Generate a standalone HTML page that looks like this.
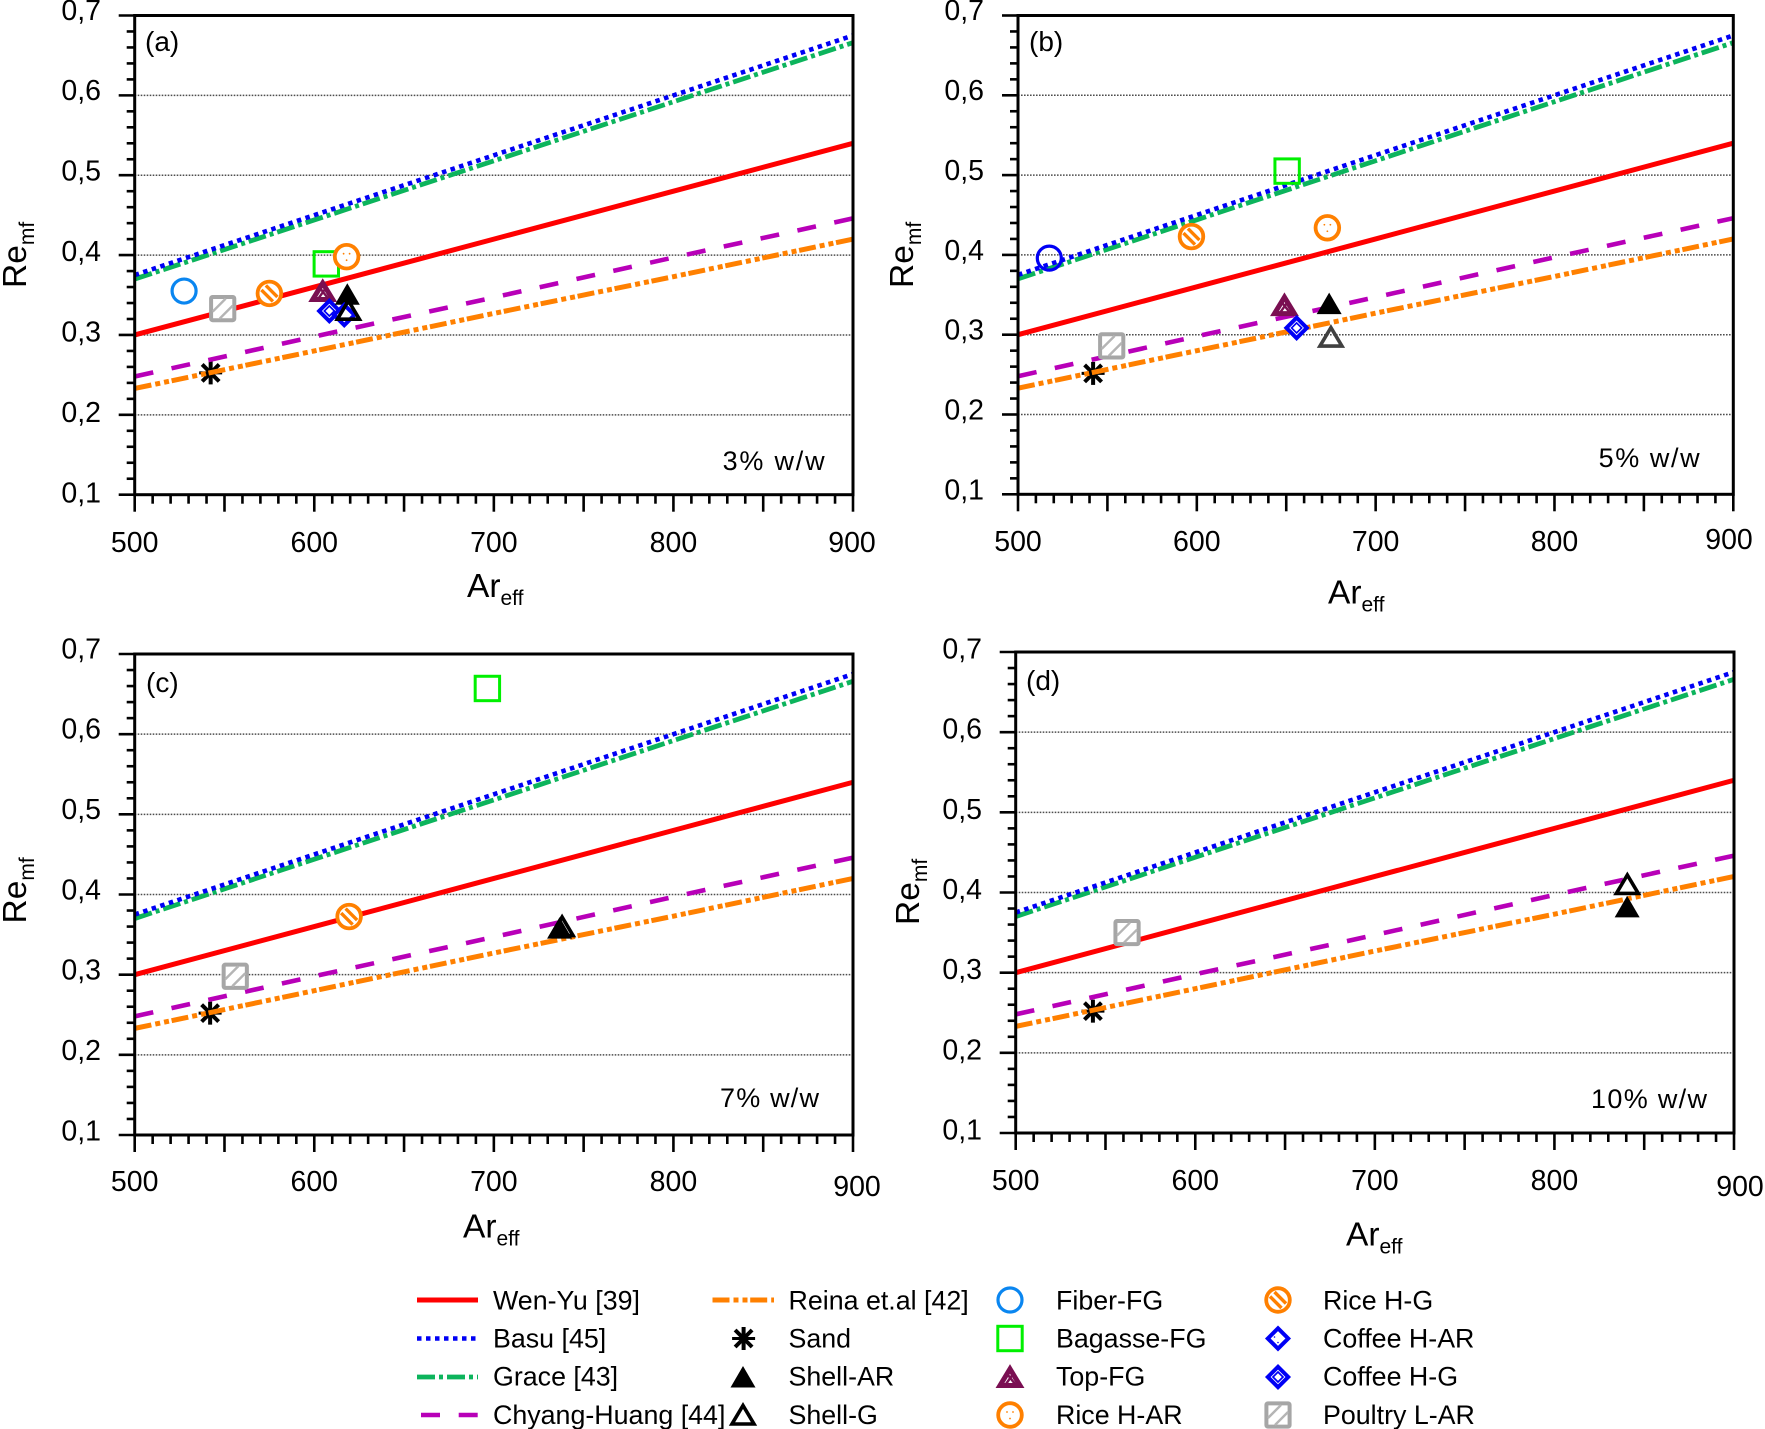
<!DOCTYPE html>
<html lang="en">
<head>
<meta charset="utf-8">
<title>Remf vs Areff for four biomass fractions</title>
<style>
html,body{margin:0;padding:0;background:#fff;}
svg{display:block;font-family:"Liberation Sans",sans-serif;fill:#000;}
</style>
</head>
<body>
<svg id="figure" xmlns="http://www.w3.org/2000/svg" width="1765" height="1429" viewBox="0 0 1765 1429">
  <g id="panels"></g>
  <g id="legend" font-size="26.8">
    <text x="493" y="1309.5">Wen-Yu [39]</text>
    <text x="493" y="1347.5">Basu [45]</text>
    <text x="493" y="1385.5">Grace [43]</text>
    <text x="493" y="1424">Chyang-Huang [44]</text>
    <text x="788.5" y="1309.5">Reina et.al [42]</text>
    <text x="788.5" y="1347.5">Sand</text>
    <text x="788.5" y="1385.5">Shell-AR</text>
    <text x="788.5" y="1424">Shell-G</text>
    <text x="1056" y="1309.5">Fiber-FG</text>
    <text x="1056" y="1347.5">Bagasse-FG</text>
    <text x="1056" y="1385.5">Top-FG</text>
    <text x="1056" y="1424">Rice H-AR</text>
    <text x="1323" y="1309.5">Rice H-G</text>
    <text x="1323" y="1347.5">Coffee H-AR</text>
    <text x="1323" y="1385.5">Coffee H-G</text>
    <text x="1323" y="1424">Poultry L-AR</text>
  </g>
</svg>
<script>
// ---- correlation lines (Re_mf at each Ar_eff sample) ----
const lineAr = [500, 600, 700, 800, 900];
const wenYu = [0.300, 0.360, 0.420, 0.480, 0.540];
const basu = [0.375, 0.450, 0.525, 0.600, 0.675];
const grace = [0.370, 0.444, 0.518, 0.592, 0.666];
const chyangHuang = [0.248, 0.298, 0.347, 0.397, 0.446];
const reina = [0.233, 0.280, 0.327, 0.373, 0.420];

// ---- tick labels ----
const xTickValues = [500, 600, 700, 800, 900];
const xTickLabels = ['500', '600', '700', '800', '900'];
const yTickValues = [0.1, 0.2, 0.3, 0.4, 0.5, 0.6, 0.7];
const yTickLabels = ['0,1', '0,2', '0,3', '0,4', '0,5', '0,6', '0,7'];
const gridValues = [0.2, 0.3, 0.4, 0.5, 0.6];

// ---- experimental points, one group per panel ----
const panelAKinds = ['fiber', 'bagasse', 'topFg', 'riceHAr', 'riceHG', 'coffeeHG', 'shellAr', 'coffeeHAr', 'shellGOpen', 'poultry'];
const panelAAr = [527.5, 606.7, 604.7, 618, 575, 608.4, 618.4, 616.7, 619, 549];
const panelARe = [0.355, 0.389, 0.355, 0.398, 0.352, 0.330, 0.351, 0.325, 0.331, 0.333];

const panelBKinds = ['fiberDark', 'bagasse', 'topFg', 'riceHAr', 'riceHG', 'shellAr', 'coffeeHG', 'shellGGray', 'poultry'];
const panelBAr = [517.5, 650.5, 649, 673, 597, 674, 655.8, 675, 552.4];
const panelBRe = [0.396, 0.505, 0.337, 0.434, 0.423, 0.339, 0.3085, 0.297, 0.286];

const panelCKinds = ['bagasse', 'riceHG', 'shellG', 'shellAr', 'poultry'];
const panelCAr = [696.4, 619.4, 738, 736.6, 556];
const panelCRe = [0.657, 0.3725, 0.360, 0.358, 0.298];

const panelDKinds = ['shellAr', 'shellG', 'poultry'];
const panelDAr = [840.5, 840.6, 562];
const panelDRe = [0.382, 0.410, 0.350];

// sand points sit beneath the correlation lines
const sandAr = [542.3, 542, 542, 543];
const sandRe = [0.2525, 0.2515, 0.252, 0.252];

// ---- series style ----
const lineStyles = [
  {name: 'line-reina', values: reina, color: '#ff8000', width: 5, dash: '17 4 5 4 5 2.7'},
  {name: 'line-chyang-huang', values: chyangHuang, color: '#b800b8', width: 4.6, dash: '19 18.7'},
  {name: 'line-grace', values: grace, color: '#0cb45c', width: 4.8, dash: '18 4 4 4'},
  {name: 'line-wen-yu', values: wenYu, color: '#ff0000', width: 5, dash: ''},
  {name: 'line-basu', values: basu, color: '#0000f5', width: 4.6, dash: '4.5 4.5'}
];

const layouts = [
  {id: 'a', left: 134.7, right: 853, top: 15.5, bottom: 494.7, xBase: 552, xLastX: 852, xLastBase: 552, yEnd: 101, offTop: 4.3, offBottom: 7.6,
   reX: 26, reY: 288, arX: 467, arY: 597, tagX: 145, tagY: 51, noteX: 722.6, noteW: 102, noteY: 470, note: '3% w/w',
   kinds: panelAKinds, ar: panelAAr, re: panelARe, sand: 0},
  {id: 'b', left: 1018, right: 1733.3, top: 15.5, bottom: 494.3, xBase: 551, xLastX: 1729, xLastBase: 549, yEnd: 984, offTop: 4.3, offBottom: 5.4,
   reX: 913, reY: 288, arX: 1328, arY: 603.5, tagX: 1029, tagY: 51, noteX: 1598.6, noteW: 101, noteY: 467, note: '5% w/w',
   kinds: panelBKinds, ar: panelBAr, re: panelBRe, sand: 1},
  {id: 'c', left: 134.7, right: 853, top: 654, bottom: 1135, xBase: 1191, xLastX: 857, xLastBase: 1196, yEnd: 101, offTop: 4.3, offBottom: 5.4,
   reX: 26, reY: 923.5, arX: 463, arY: 1237.5, tagX: 146, tagY: 692, noteX: 720, noteW: 99, noteY: 1107, note: '7% w/w',
   kinds: panelCKinds, ar: panelCAr, re: panelCRe, sand: 2},
  {id: 'd', left: 1015.7, right: 1734, top: 652, bottom: 1133, xBase: 1190, xLastX: 1740, xLastBase: 1196, yEnd: 982, offTop: 6.5, offBottom: 6.5,
   reX: 919, reY: 925, arX: 1346, arY: 1245.5, tagX: 1026, tagY: 690, noteX: 1591, noteW: 116, noteY: 1108, note: '10% w/w',
   kinds: panelDKinds, ar: panelDAr, re: panelDRe, sand: 3}
];

const NS = 'http://www.w3.org/2000/svg';
function make(parent, tag, attrs) {
  const el = document.createElementNS(NS, tag);
  for (const k in attrs) el.setAttribute(k, attrs[k]);
  parent.appendChild(el);
  return el;
}
function seg(parent, x1, y1, x2, y2, color, w) {
  return make(parent, 'line', {x1: x1, y1: y1, x2: x2, y2: y2, stroke: color, 'stroke-width': w});
}

function drawMarker(parent, kind, cx, cy) {
  const g = make(parent, 'g', {});
  
  
  const orange = '#ff8000', blue = '#0000f5', maroon = '#7a0f52', gray = '#a6a6a6';
  if (kind === 'sand') {
    for (let i = 0; i < 4; i++) {
      const a = i * Math.PI / 4, len = (i % 2 === 0) ? 11.5 : 12;
      const dx = Math.sin(a) * len, dy = Math.cos(a) * len;
      seg(g, cx - dx, cy - dy, cx + dx, cy + dy, '#000', i === 2 ? 3 : 4);
    }
  } else if (kind === 'fiber' || kind === 'fiberDark') {
    make(g, 'circle', {cx: cx, cy: cy, r: 12, fill: 'none', stroke: kind === 'fiber' ? '#0a86f0' : '#0000f5', 'stroke-width': 3.2});
  } else if (kind === 'bagasse') {
    make(g, 'rect', {x: cx - 12.2, y: cy - 12.2, width: 24.4, height: 24.4, fill: 'none', stroke: '#00f000', 'stroke-width': 3});
  } else if (kind === 'riceHAr') {
    make(g, 'circle', {cx: cx, cy: cy, r: 11.8, fill: '#fff', stroke: orange, 'stroke-width': 3.8});
    make(g, 'circle', {cx: cx - 3, cy: cy - 3, r: 0.9, fill: orange});
    make(g, 'circle', {cx: cx + 3, cy: cy - 3, r: 0.9, fill: orange});
    make(g, 'circle', {cx: cx, cy: cy + 3.5, r: 0.9, fill: orange});
  } else if (kind === 'riceHG') {
    make(g, 'circle', {cx: cx, cy: cy, r: 11.8, fill: '#fff', stroke: orange, 'stroke-width': 3.8});
    seg(g, cx - 8, cy - 3.5, cx + 3.5, cy + 8, orange, 3.4);
    seg(g, cx - 3.5, cy - 8, cx + 8, cy + 3.5, orange, 3.4);
  } else if (kind === 'shellAr') {
    make(g, 'polygon', {points: (cx - 12.5) + ',' + (cy + 10.5) + ' ' + (cx + 12.5) + ',' + (cy + 10.5) + ' ' + cx + ',' + (cy - 11), fill: '#000'});
  } else if (kind === 'shellG' || kind === 'shellGOpen' || kind === 'shellGGray') {
    make(g, 'polygon', {
      points: (cx - 11) + ',' + (cy + 9) + ' ' + (cx + 11) + ',' + (cy + 9) + ' ' + cx + ',' + (cy - 9.5),
      fill: kind === 'shellG' ? '#fff' : 'none',
      stroke: kind === 'shellGGray' ? '#404040' : '#000',
      'stroke-width': 3.6
    });
  } else if (kind === 'topFg') {
    make(g, 'polygon', {points: (cx - 10) + ',' + (cy + 8.5) + ' ' + (cx + 10) + ',' + (cy + 8.5) + ' ' + cx + ',' + (cy - 8), fill: '#fff', stroke: maroon, 'stroke-width': 5});
    seg(g, cx - 4, cy + 7, cx + 3, cy - 3, maroon, 2.4);
    seg(g, cx - 2, cy - 2, cx + 5, cy + 7, maroon, 2.4);
  } else if (kind === 'coffeeHAr' || kind === 'coffeeHG') {
    make(g, 'polygon', {points: (cx - 10.2) + ',' + cy + ' ' + cx + ',' + (cy - 10.2) + ' ' + (cx + 10.2) + ',' + cy + ' ' + cx + ',' + (cy + 10.2), fill: '#fff', stroke: blue, 'stroke-width': 4});
    if (kind === 'coffeeHG') {
      make(g, 'polygon', {points: (cx - 5) + ',' + cy + ' ' + cx + ',' + (cy - 5) + ' ' + (cx + 5) + ',' + cy + ' ' + cx + ',' + (cy + 5), fill: '#fff', stroke: blue, 'stroke-width': 1.7});
    } else {
      make(g, 'circle', {cx: cx - 3.5, cy: cy - 1.5, r: 0.8, fill: blue});
      make(g, 'circle', {cx: cx, cy: cy + 4, r: 0.8, fill: blue});
    }
  } else if (kind === 'poultry') {
    make(g, 'rect', {x: cx - 11.6, y: cy - 11.6, width: 23.2, height: 23.2, rx: 1.5, fill: '#fff', stroke: gray, 'stroke-width': 4});
    seg(g, cx - 10, cy + 3, cx + 3, cy - 10, '#b5b5b5', 2.4);
    seg(g, cx - 3, cy + 10, cx + 10, cy - 3, '#b5b5b5', 2.4);
  }
  return g;
}

function drawPanel(root, p) {
  const g = make(root, 'g', {});
  
  

  const xScale = v => p.left + (v - 500) / 400 * (p.right - p.left);
  const yScale = v => p.bottom - (v - 0.1) / 0.6 * (p.bottom - p.top);

  // gridlines
  gridValues.forEach(v => {
    const gl = seg(g, p.left, yScale(v), p.right, yScale(v), '#4d4d4d', 1.5);
    gl.setAttribute('stroke-dasharray', '1.6 1.4');
    
    
  });

  // sand marker sits under the lines
  drawMarker(g, 'sand', xScale(sandAr[p.sand]), yScale(sandRe[p.sand]));

  // correlation lines
  lineStyles.forEach(s => {
    const pts = lineAr.map((a, i) => xScale(a).toFixed(2) + ',' + yScale(s.values[i]).toFixed(2)).join(' ');
    const pl = make(g, 'polyline', {points: pts, fill: 'none', stroke: s.color, 'stroke-width': s.width});
    if (s.dash) pl.setAttribute('stroke-dasharray', s.dash);
    
    
  });

  // axes frame
  const frame = make(g, 'rect', {x: p.left, y: p.top, width: p.right - p.left, height: p.bottom - p.top, fill: 'none', stroke: '#000', 'stroke-width': 3});
  
  

  // y ticks
  const yAxis = make(g, 'g', {});
  
  
  for (let i = 0; i <= 30; i++) {
    const v = 0.1 + i * 0.02;
    seg(yAxis, p.left - (i % 5 === 0 ? 16 : 8), yScale(v), p.left, yScale(v), '#000', 2.6);
  }
  yTickValues.forEach((v, i) => {
    const off = p.offBottom + (p.offTop - p.offBottom) * i / (yTickValues.length - 1);
    const t = make(yAxis, 'text', {x: p.yEnd, y: yScale(v) + off, 'text-anchor': 'end', 'font-size': 28.5});
    t.textContent = yTickLabels[i];
    
    
  });

  // x ticks
  const xAxis = make(g, 'g', {});
  
  
  for (let v = 500; v <= 900; v += 10) {
    seg(xAxis, xScale(v), p.bottom, xScale(v), p.bottom + (v % 50 === 0 ? 17 : 9), '#000', 2.6);
  }
  xTickValues.forEach((v, i) => {
    const last = i === xTickValues.length - 1;
    const t = make(xAxis, 'text', {x: last ? p.xLastX : xScale(v), y: last ? p.xLastBase : p.xBase, 'text-anchor': 'middle', 'font-size': 28.5});
    t.textContent = xTickLabels[i];
    
    
  });

  // axis titles
  const yTitle = make(g, 'text', {x: p.reX, y: p.reY, 'font-size': 33.5, transform: 'rotate(-90 ' + p.reX + ' ' + p.reY + ')'});
  
  
  yTitle.appendChild(document.createTextNode('Re'));
  const ySub = make(yTitle, 'tspan', {'font-size': 21, dy: 8});
  ySub.textContent = 'mf';

  const xTitle = make(g, 'text', {x: p.arX, y: p.arY, 'font-size': 33.5});
  
  
  xTitle.appendChild(document.createTextNode('Ar'));
  const xSub = make(xTitle, 'tspan', {'font-size': 21, dy: 8});
  xSub.textContent = 'eff';

  // panel tag and concentration note
  const tag = make(g, 'text', {x: p.tagX, y: p.tagY, 'font-size': 28});
  tag.textContent = '(' + p.id + ')';
  
  

  const note = make(g, 'text', {x: p.noteX, y: p.noteY, 'font-size': 27, textLength: p.noteW, lengthAdjust: 'spacing'});
  note.textContent = p.note;
  
  

  // markers above the lines
  p.kinds.forEach((k, i) => drawMarker(g, k, xScale(p.ar[i]), yScale(p.re[i])));
}

const panelsRoot = document.getElementById('panels');
layouts.forEach(p => drawPanel(panelsRoot, p));

// ---- legend swatches ----
const legendRoot = document.getElementById('legend');
const legendLineRows = [
  {name: 'legend-line-wen-yu', style: 3, x1: 417, x2: 478, y: 1300},
  {name: 'legend-line-basu', style: 4, x1: 417, x2: 478, y: 1338.5},
  {name: 'legend-line-grace', style: 2, x1: 417, x2: 478, y: 1377},
  {name: 'legend-line-chyang-huang', style: 1, x1: 421, x2: 478, y: 1415},
  {name: 'legend-line-reina', style: 0, x1: 712.5, x2: 774, y: 1300}
];
legendLineRows.forEach(r => {
  const s = lineStyles[r.style];
  const ln = seg(legendRoot, r.x1, r.y, r.x2, r.y, s.color, s.width);
  if (s.dash) ln.setAttribute('stroke-dasharray', s.dash);
  
  
});
drawMarker(legendRoot, 'sand', 743.6, 1338.5);
drawMarker(legendRoot, 'shellAr', 743, 1377);
drawMarker(legendRoot, 'shellG', 743, 1415);
drawMarker(legendRoot, 'fiber', 1010, 1300);
drawMarker(legendRoot, 'bagasse', 1010, 1338.5);
drawMarker(legendRoot, 'topFg', 1010, 1377);
drawMarker(legendRoot, 'riceHAr', 1010, 1415);
drawMarker(legendRoot, 'riceHG', 1278, 1300);
drawMarker(legendRoot, 'coffeeHAr', 1278, 1338.5);
drawMarker(legendRoot, 'coffeeHG', 1278, 1377);
drawMarker(legendRoot, 'poultry', 1278, 1415);
</script>
</body>
</html>
